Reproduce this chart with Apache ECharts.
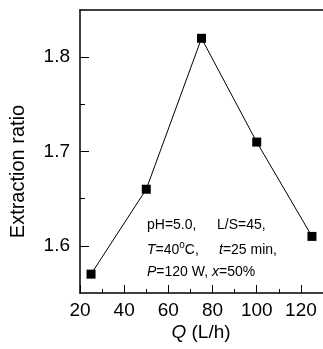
<!DOCTYPE html>
<html>
<head>
<meta charset="utf-8">
<script src="https://cdn.jsdelivr.net/npm/echarts@6/dist/echarts.min.js"></script>
<style>
  html, body { margin: 0; padding: 0; background: #fff; }
  #main { width: 323px; height: 349px; }
</style>
</head>
<body>
<div id="main"></div>
<script>
// flow rate Q (L/h) vs extraction ratio
const flowRates = [25, 50, 75, 100, 125];
const ratios = [1.57, 1.66, 1.82, 1.71, 1.61];

const xMajorTicks = [20, 40, 60, 80, 100, 120];
const xMinorTicks = [30, 50, 70, 90, 110];
const yMajorTicks = [1.6, 1.7, 1.8];
const yMinorTicks = [1.65, 1.75];

const FONT = "'Liberation Sans', Arial, sans-serif";

const chartDom = document.getElementById("main");
const myChart = echarts.init(chartDom, null, { renderer: "canvas" });

const option = {
  animation: false,
  backgroundColor: "#fff",
  grid: { left: 80, top: 10, right: -3, bottom: 56 },
  xAxis: [
    {
      type: "value",
      min: 20,
      max: 130,
      position: "bottom",
      splitLine: { show: false },
      axisLine: { lineStyle: { color: "#000", width: 1.5 } },
      axisTick: {
        inside: true,
        length: 8,
        customValues: xMajorTicks,
        lineStyle: { color: "#000", width: 1 },
      },
      axisLabel: {
        customValues: xMajorTicks,
        color: "#000",
        fontSize: 19,
        fontFamily: FONT,
        margin: 8,
      },
    },
    {
      type: "value",
      min: 20,
      max: 130,
      position: "bottom",
      splitLine: { show: false },
      axisLine: { show: false },
      axisTick: {
        inside: true,
        length: 4,
        customValues: xMinorTicks,
        lineStyle: { color: "#000", width: 1 },
      },
      axisLabel: { show: false },
    },
    {
      type: "value",
      min: 20,
      max: 130,
      position: "top",
      splitLine: { show: false },
      axisLine: { lineStyle: { color: "#000", width: 1.5 } },
      axisTick: { show: false },
      axisLabel: { show: false },
    },
  ],
  yAxis: [
    {
      type: "value",
      min: 1.55,
      max: 1.85,
      position: "left",
      splitLine: { show: false },
      axisLine: { show: true, lineStyle: { color: "#000", width: 1.5 } },
      axisTick: {
        inside: true,
        length: 9,
        customValues: yMajorTicks,
        lineStyle: { color: "#000", width: 1 },
      },
      axisLabel: {
        customValues: yMajorTicks,
        formatter: (v) => v.toFixed(1),
        color: "#000",
        fontSize: 19,
        fontFamily: FONT,
        margin: 10,
      },
    },
    {
      type: "value",
      min: 1.55,
      max: 1.85,
      position: "left",
      splitLine: { show: false },
      axisLine: { show: false },
      axisTick: {
        show: true,
        inside: true,
        length: 5,
        customValues: yMinorTicks,
        lineStyle: { color: "#000", width: 1 },
      },
      axisLabel: { show: false },
    },
  ],
  series: [
    {
      type: "line",
      data: flowRates.map((q, i) => [q, ratios[i]]),
      symbol: "rect",
      symbolSize: 9,
      itemStyle: { color: "#000" },
      lineStyle: { color: "#000", width: 1 },
    },
  ],
  graphic: [
    {
      type: "text",
      x: 18.5,
      y: 171.5,
      rotation: Math.PI / 2,
      style: {
        text: "Extraction ratio",
        fontSize: 20,
        fontFamily: FONT,
        fill: "#000",
        align: "center",
        verticalAlign: "middle",
      },
    },
    {
      type: "text",
      x: 201,
      y: 333,
      style: {
        text: "{i|Q} (L/h)",
        fontSize: 19,
        fontFamily: FONT,
        fill: "#000",
        align: "center",
        verticalAlign: "middle",
        rich: { i: { fontStyle: "italic", fontSize: 19, fontFamily: FONT } },
      },
    },
    {
      type: "text",
      x: 147,
      y: 225,
      style: { text: "pH=5.0,", fontSize: 14, fontFamily: FONT, fill: "#000", verticalAlign: "middle" },
    },
    {
      type: "text",
      x: 217,
      y: 225,
      style: { text: "L/S=45,", fontSize: 14, fontFamily: FONT, fill: "#000", verticalAlign: "middle" },
    },
    {
      type: "text",
      x: 147,
      y: 250,
      style: {
        text: "{i|T}=40{s|o}C,",
        fontSize: 14,
        fontFamily: FONT,
        fill: "#000",
        verticalAlign: "middle",
        rich: {
          i: { fontStyle: "italic", fontSize: 14, fontFamily: FONT },
          s: { fontSize: 10, fontFamily: FONT, padding: [0, 0, 9, 0] },
        },
      },
    },
    {
      type: "text",
      x: 219,
      y: 250,
      style: {
        text: "{i|t}=25 min,",
        fontSize: 14,
        fontFamily: FONT,
        fill: "#000",
        verticalAlign: "middle",
        rich: { i: { fontStyle: "italic", fontSize: 14, fontFamily: FONT } },
      },
    },
    {
      type: "text",
      x: 147,
      y: 272,
      style: {
        text: "{i|P}=120 W, {i|x}=50%",
        fontSize: 14,
        fontFamily: FONT,
        fill: "#000",
        verticalAlign: "middle",
        rich: { i: { fontStyle: "italic", fontSize: 14, fontFamily: FONT } },
      },
    },
  ],
};

myChart.setOption(option);
</script>
</body>
</html>
